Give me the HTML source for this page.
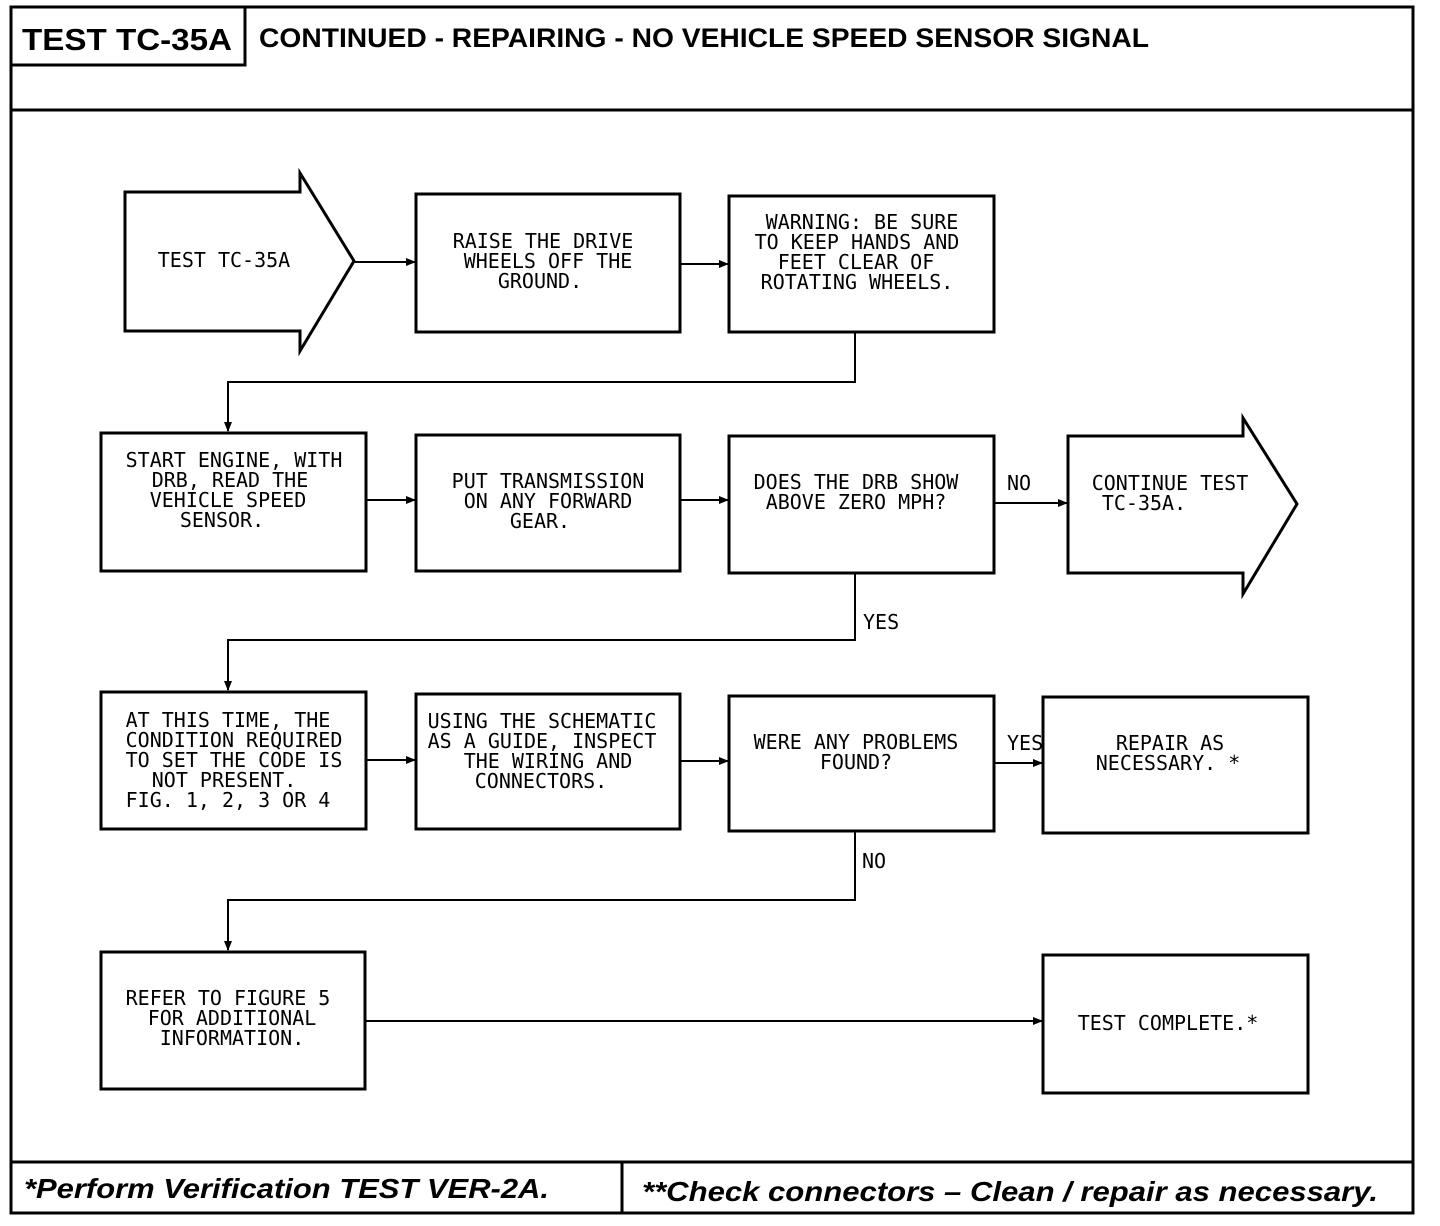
<!DOCTYPE html>
<html><head><meta charset="utf-8"><style>
html,body{margin:0;padding:0;background:#fff;}
svg{display:block}
.t{font-family:"DejaVu Sans Mono","Liberation Mono",monospace;font-size:20px;fill:#000;text-anchor:middle}
.l{font-family:"DejaVu Sans Mono","Liberation Mono",monospace;font-size:20px;fill:#000}
</style></head><body>
<svg width="1440" height="1226" viewBox="0 0 1440 1226" xmlns="http://www.w3.org/2000/svg">
<defs><marker id="a" markerWidth="10" markerHeight="8" refX="9" refY="4" orient="auto" markerUnits="userSpaceOnUse"><path d="M0,0 L10,4 L0,8 z" fill="#000"/></marker></defs>
<g fill="none" stroke="#000" stroke-width="3">
<rect x="11" y="7" width="1402" height="1206"/>
<line x1="11" y1="110" x2="1413" y2="110"/>
<rect x="11" y="7" width="234" height="58"/>
<line x1="11" y1="1162" x2="1413" y2="1162"/>
<line x1="622" y1="1162" x2="622" y2="1213"/>
<path d="M125,192 H300 V173 L354,261 L300,351 V331 H125 Z"/>
<rect x="416" y="194" width="264" height="138"/>
<rect x="729" y="196" width="265" height="136"/>
<rect x="101" y="433" width="265" height="138"/>
<rect x="416" y="435" width="264" height="136"/>
<rect x="729" y="436" width="265" height="137"/>
<path d="M1068,436 H1243 V418 L1297,504 L1243,594 V573 H1068 Z"/>
<rect x="101" y="692" width="265" height="137"/>
<rect x="416" y="694" width="264" height="135"/>
<rect x="729" y="696" width="265" height="135"/>
<rect x="1043" y="697" width="265" height="136"/>
<rect x="101" y="952" width="264" height="137"/>
<rect x="1043" y="955" width="265" height="138"/>
</g>
<g fill="none" stroke="#000" stroke-width="2">
<line x1="354" y1="262" x2="415" y2="262" marker-end="url(#a)"/>
<line x1="680" y1="264" x2="728" y2="264" marker-end="url(#a)"/>
<path d="M855,332 V382 H228 V431" marker-end="url(#a)"/>
<line x1="366" y1="500" x2="415" y2="500" marker-end="url(#a)"/>
<line x1="680" y1="500" x2="728" y2="500" marker-end="url(#a)"/>
<line x1="994" y1="503" x2="1067" y2="503" marker-end="url(#a)"/>
<path d="M855,573 V640 H228 V690" marker-end="url(#a)"/>
<line x1="366" y1="760" x2="415" y2="760" marker-end="url(#a)"/>
<line x1="680" y1="761" x2="728" y2="761" marker-end="url(#a)"/>
<line x1="994" y1="763" x2="1042" y2="763" marker-end="url(#a)"/>
<path d="M855,831 V900 H228 V950" marker-end="url(#a)"/>
<line x1="365" y1="1021" x2="1042" y2="1021" marker-end="url(#a)"/>
</g>
<text x="22" y="50" style="font-family:'Liberation Sans',sans-serif;font-weight:bold;font-size:31px" textLength="210" lengthAdjust="spacingAndGlyphs">TEST TC-35A</text>
<text x="259" y="47" style="font-family:'Liberation Sans',sans-serif;font-weight:bold;font-size:27px" textLength="890" lengthAdjust="spacingAndGlyphs">CONTINUED - REPAIRING - NO VEHICLE SPEED SENSOR SIGNAL</text>
<text x="24" y="1198" style="font-family:'Liberation Sans',sans-serif;font-weight:bold;font-style:italic;font-size:28px" textLength="525" lengthAdjust="spacingAndGlyphs">*Perform Verification TEST VER-2A.</text>
<text x="642" y="1201" style="font-family:'Liberation Sans',sans-serif;font-weight:bold;font-style:italic;font-size:28px" textLength="736" lengthAdjust="spacingAndGlyphs">**Check connectors – Clean / repair as necessary.</text>
<text class="t" x="224" y="267">TEST TC-35A</text>
<text class="t" x="543" y="248">RAISE THE DRIVE</text><text class="t" x="548" y="268">WHEELS OFF THE</text><text class="t" x="540" y="288">GROUND.</text>
<text class="t" x="862" y="229">WARNING: BE SURE</text><text class="t" x="857" y="249">TO KEEP HANDS AND</text><text class="t" x="856" y="269">FEET CLEAR OF</text><text class="t" x="857" y="289">ROTATING WHEELS.</text>
<text class="t" x="234" y="467">START ENGINE, WITH</text><text class="t" x="230" y="487">DRB, READ THE</text><text class="t" x="228" y="507">VEHICLE SPEED</text><text class="t" x="222" y="527">SENSOR.</text>
<text class="t" x="548" y="488">PUT TRANSMISSION</text><text class="t" x="548" y="508">ON ANY FORWARD</text><text class="t" x="540" y="528">GEAR.</text>
<text class="t" x="856" y="489">DOES THE DRB SHOW</text><text class="t" x="856" y="509">ABOVE ZERO MPH?</text>
<text class="l" x="1007" y="490">NO</text>
<text class="t" x="1170" y="490">CONTINUE TEST</text><text class="t" x="1144" y="510">TC-35A.</text>
<text class="l" x="863" y="629">YES</text>
<text class="t" x="228" y="727">AT THIS TIME, THE</text><text class="t" x="234" y="747">CONDITION REQUIRED</text><text class="t" x="234" y="767">TO SET THE CODE IS</text><text class="t" x="224" y="787">NOT PRESENT.</text><text class="t" x="228" y="807">FIG. 1, 2, 3 OR 4</text>
<text class="t" x="542" y="728">USING THE SCHEMATIC</text><text class="t" x="542" y="748">AS A GUIDE, INSPECT</text><text class="t" x="548" y="768">THE WIRING AND</text><text class="t" x="541" y="788">CONNECTORS.</text>
<text class="t" x="856" y="749">WERE ANY PROBLEMS</text><text class="t" x="856" y="769">FOUND?</text>
<text class="l" x="1007" y="750">YES</text>
<text class="t" x="1170" y="750">REPAIR AS</text><text class="t" x="1168" y="770">NECESSARY. *</text>
<text class="l" x="862" y="868">NO</text>
<text class="t" x="228" y="1005">REFER TO FIGURE 5</text><text class="t" x="232" y="1025">FOR ADDITIONAL</text><text class="t" x="232" y="1045">INFORMATION.</text>
<text class="t" x="1168" y="1030">TEST COMPLETE.*</text>
</svg>
</body></html>
